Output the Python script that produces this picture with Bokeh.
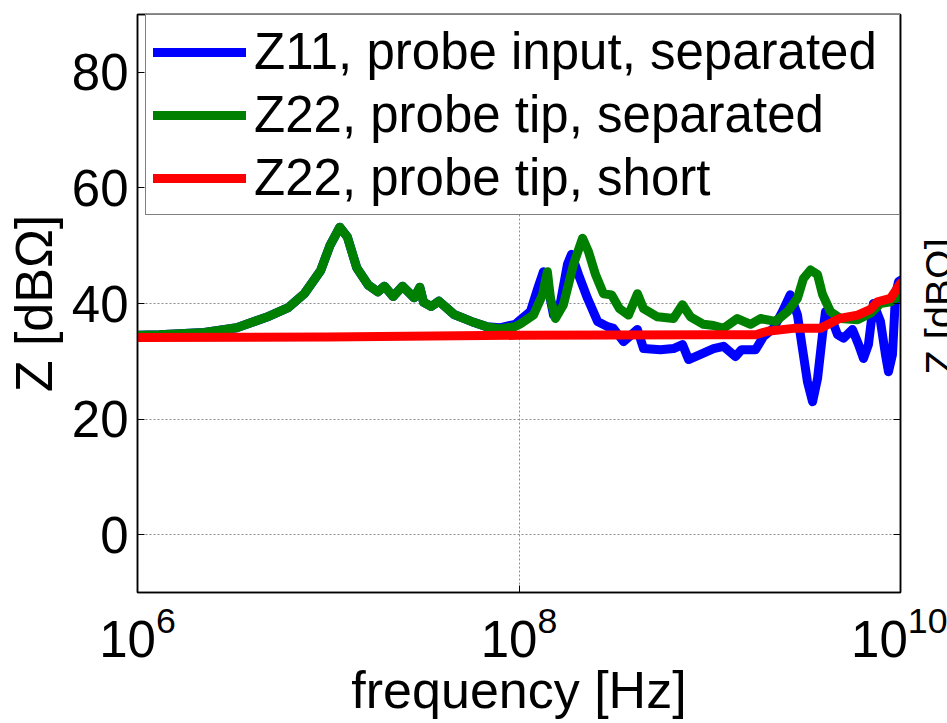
import math
from bokeh.plotting import figure
from bokeh.models import (Legend, LegendItem, FixedTicker, LinearAxis, LogAxis,
                          Label, Range1d, CustomJSTickFormatter, LogTickFormatter)
from bokeh.embed import file_html
from bokeh.resources import INLINE

FONT = "Liberation Sans"

# ---- data (frequency in MHz, impedance in dBOhm) ----
z11_sep_mhz = [1.0, 1.3, 2.24, 3.31, 4.9, 6.17, 7.5, 9.12, 10.2, 11.5, 12.6, 14.1, 16.2, 18.2,
               19.7, 21.9, 24.5, 28.2, 30.2, 31.6, 34.7, 38.0, 45.7, 56.2, 67.6, 79.4, 95.5,
               101.9, 114.8, 126.5, 134.3, 142.9, 151.7, 165.2, 179.5, 188.4, 205.1, 228.6,
               258.2, 291.1, 312.6, 353.2, 417.8, 449.8, 552.1, 645.7, 719.5, 774.5, 895.4,
               1047, 1180, 1365, 1466, 1738, 1914, 2158, 2404, 2642, 2884, 3062, 3251, 3459,
               3673, 3899, 4046, 4406, 4677, 5023, 5598, 6026, 6397, 6792, 7211, 7852, 8337,
               8650, 9078, 9419, 9772, 10000]
z11_sep_db = [34.5, 34.6, 35.0, 35.8, 37.8, 39.3, 41.7, 45.7, 50.0, 53.2, 51.5, 46.2, 43.2, 42.0,
              43.0, 41.2, 43.0, 41.0, 42.8, 40.2, 39.5, 40.4, 38.1, 36.9, 36.0, 35.8, 36.4,
              37.2, 38.6, 43.0, 45.5, 42.3, 38.0, 40.3, 46.8, 48.5, 45.0, 40.9,
              36.9, 36.0, 35.7, 33.4, 35.5, 32.2, 32.0, 32.2, 32.9, 30.3, 31.2,
              32.2, 32.6, 30.8, 32.0, 32.0, 34.3, 35.7, 38.6, 41.5, 38.0, 32.2, 26.5, 23.0,
              27.0, 34.6, 38.6, 36.9, 34.6, 34.0, 35.5, 32.9, 30.5, 32.9, 40.0, 36.9, 31.2,
              28.2, 31.2, 41.6, 43.8, 44.0]

z22_sep_mhz = [1.0, 1.3, 2.24, 3.31, 4.9, 6.17, 7.5, 9.12, 10.2, 11.5, 12.6, 14.1, 16.2, 18.2,
               19.7, 21.9, 24.5, 28.2, 30.2, 31.6, 34.7, 38.0, 45.7, 56.2, 67.6, 79.4, 95.5,
               101.9, 119.1, 132.7, 140.9, 146.2, 155.2, 171.0, 193.2, 215.3, 231.2, 251.8,
               277.3, 305.5, 336.5, 375.0, 417.8, 449.8, 532.1, 645.7, 719.5, 792.5, 926.8,
               1047, 1180, 1396, 1637, 1845, 2213, 2559, 2884, 3097, 3373, 3673, 3899, 4295,
               4842, 5957, 6966, 7852, 8872, 9772, 10000]
z22_sep_db = [34.5, 34.6, 35.0, 35.8, 37.8, 39.3, 41.7, 45.7, 50.0, 53.2, 51.5, 46.2, 43.2, 42.0,
              43.0, 41.2, 43.0, 41.0, 42.8, 40.2, 39.5, 40.4, 38.1, 36.9, 36.0, 35.6, 36.0,
              36.5, 38.0, 41.5, 45.5, 40.9, 37.4, 39.8, 46.8, 51.3, 49.0, 45.0,
              41.7, 41.5, 39.1, 38.0, 41.7, 39.1, 37.7, 37.4, 39.8, 37.7, 36.4,
              36.2, 35.7, 37.4, 36.4, 37.4, 36.9, 38.6, 40.9, 44.3, 45.8, 45.0, 41.6, 38.6,
              37.4, 37.2, 38.3, 40.0, 40.3, 41.2, 41.5]

z22_short_mhz = [1.0, 10.0, 100.0, 1000.0, 1738, 2009, 2748, 3811, 4786, 5957, 6966, 7568,
                 8872, 9772, 10000]
z22_short_db = [34.1, 34.2, 34.5, 34.6, 34.6, 35.2, 35.7, 35.7, 37.4, 38.0, 39.0, 40.3,
                40.9, 43.0, 43.5]

series_labels = ["Z11, probe input, separated", "Z22, probe tip, separated",
                 "Z22, probe tip, short"]
series_colors = ["#0000ff", "#008000", "#ff0000"]
x_ticks = [1e6, 1e8, 1e10]
y_ticks = [0, 20, 40, 60, 80]
x_axis_label = "frequency [Hz]"
y_axis_label = "Z [dB\u03a9]"

MHZ = 1e6
series = [
    ([f * MHZ for f in z11_sep_mhz], z11_sep_db),
    ([f * MHZ for f in z22_sep_mhz], z22_sep_db),
    ([f * MHZ for f in z22_short_mhz], z22_short_db),
]

p = figure(width=947, height=723, x_axis_type="log",
           x_range=Range1d(1e6, 1e10), y_range=Range1d(-10, 90),
           output_backend="svg", toolbar_location=None,
           min_border_left=137, min_border_right=47,
           min_border_top=14, min_border_bottom=131)

p.background_fill_color = "white"
p.border_fill_color = "white"
p.outline_line_color = "black"
p.outline_line_width = 1.5

# grids
p.xgrid.ticker = FixedTicker(ticks=x_ticks, minor_ticks=[])
p.ygrid.ticker = FixedTicker(ticks=y_ticks, minor_ticks=[])
for g in (p.xgrid[0], p.ygrid[0]):
    g.grid_line_color = "#8c8c8c"
    g.grid_line_dash = "2 2"
    g.grid_line_width = 1

# main axes
xa = p.xaxis[0]
ya = p.yaxis[0]
xa.ticker = FixedTicker(ticks=x_ticks, minor_ticks=[])
xa.formatter = LogTickFormatter()
ya.ticker = FixedTicker(ticks=y_ticks, minor_ticks=[])
xa.axis_label = x_axis_label
ya.axis_label = y_axis_label
for ax in (xa, ya):
    ax.axis_line_color = "black"
    ax.axis_line_width = 1.5
    ax.major_tick_in = 7
    ax.major_tick_out = 0
    ax.minor_tick_in = 0
    ax.minor_tick_out = 0
    ax.major_tick_line_color = "black"
    ax.major_label_text_font = FONT
    ax.major_label_text_font_size = "51px"
    ax.major_label_text_color = "black"
    ax.axis_label_text_font = FONT
    ax.axis_label_text_font_size = "52px"
    ax.axis_label_text_font_style = "normal"
    ax.axis_label_text_color = "black"
xa.major_label_standoff = 12
xa.axis_label_standoff = 1
ya.major_label_standoff = 9
ya.axis_label_standoff = 6

blank = CustomJSTickFormatter(code="return ''")
ra = LinearAxis(ticker=FixedTicker(ticks=y_ticks, minor_ticks=[]), formatter=blank)
ta = LogAxis(ticker=FixedTicker(ticks=x_ticks, minor_ticks=[]), formatter=blank)
for ax in (ra, ta):
    ax.axis_line_color = "black"
    ax.axis_line_width = 1.5
    ax.major_tick_in = 7
    ax.major_tick_out = 0
    ax.minor_tick_in = 0
    ax.minor_tick_out = 0
    ax.major_label_text_font_size = "1px"
    ax.major_label_standoff = 0
p.add_layout(ra, "right")
p.add_layout(ta, "above")

# lines
renderers = []
for (xs, ys), c in zip(series, series_colors):
    r = p.line(xs, ys, line_color=c, line_width=9, line_join="round", line_cap="round")
    renderers.append(r)

legend = Legend(items=[LegendItem(label=l, renderers=[r]) for l, r in zip(series_labels, renderers)],
                location="top_right", margin=0, padding=7, spacing=4,
                glyph_width=93, glyph_height=50, label_height=50, label_width=638,
                label_standoff=8,
                label_text_font=FONT, label_text_font_size="51px",
                label_text_color="black",
                border_line_color="black", border_line_width=1.5,
                background_fill_color="white", background_fill_alpha=1.0)
p.add_layout(legend)

# y-axis label of the neighbouring panel, cut by the page edge (kept in the
# narrow right side panel so that it is not clipped to the plotting frame)
p.add_layout(Label(x=17, y=286, x_units="screen", y_units="screen", text=y_axis_label,
                   angle=math.pi / 2, text_align="center", text_baseline="top",
                   text_font=FONT, text_font_size="40px", text_color="black"), "right")

open("out.html", "w").write(file_html(p, INLINE))
